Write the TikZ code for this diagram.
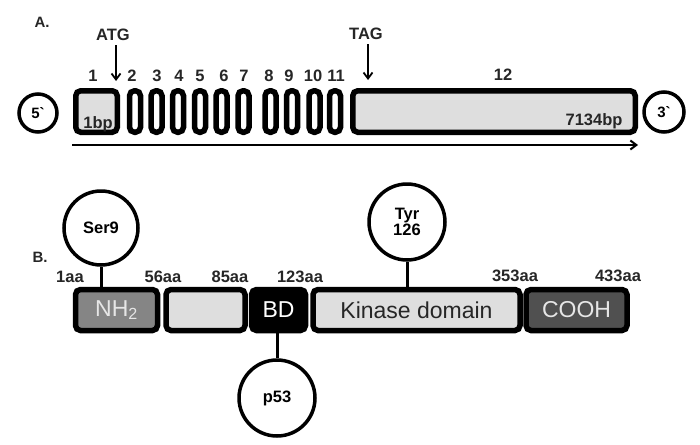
\documentclass[tikz,border=0pt]{standalone}
\usepackage{fontspec}
\setmainfont{Liberation Sans}
\usetikzlibrary{arrows.meta}
\definecolor{lightfill}{HTML}{DEDEDE}
\definecolor{midfill}{HTML}{858585}
\definecolor{darkfill}{HTML}{505050}
\definecolor{paletext}{HTML}{E6E6E6}
\begin{document}
\begin{tikzpicture}[x=1pt,y=-1pt,
  lab/.style={font=\fontsize{16.5}{18}\selectfont\bfseries, inner sep=0, text=black!85},
  numlab/.style={font=\fontsize{16.5}{18}\selectfont\bfseries, inner sep=0, text=black!85},
  exonbox/.style={draw, line width=5.5pt, rounded corners=5pt, fill=white, inner sep=0,
    minimum width=11pt, minimum height=41.5pt},
  bigexon/.style={exonbox, fill=lightfill},
  endcircle/.style={draw, circle, line width=3.5pt, inner sep=0, minimum size=38pt,
    font=\fontsize{15}{17}\selectfont\bfseries},
  sitecircle/.style={draw, circle, line width=3.5pt, inner sep=0, minimum size=74pt,
    font=\fontsize{16.5}{18}\selectfont\bfseries, align=center},
  protbox/.style={draw, line width=5.5pt, rounded corners=5pt, inner sep=0,
    minimum height=41pt, font=\fontsize{23}{25}\selectfont},
  stem/.style={line width=3pt},
  arr/.style={line width=1.8pt, -{Straight Barb[length=6pt,width=9pt]}}
]
\useasboundingbox (0,0) rectangle (700,444);

% ---------------- Part A ----------------
\node[lab, font=\fontsize{15}{17}\selectfont\bfseries] (labA) at (42,22) {A.};

\node[endcircle] (five) at (38,113) {5\textasciigrave};
\node[endcircle, minimum size=40pt] (three) at (664,112) {3\textasciigrave};

\node[bigexon, minimum width=41.5pt] (e1) at (96.5,111.5) {};
\node[exonbox] (e2) at (135,111.5) {};
\node[exonbox] (e3) at (156.5,111.5) {};
\node[exonbox] (e4) at (178,111.5) {};
\node[exonbox] (e5) at (200,111.5) {};
\node[exonbox] (e6) at (221.5,111.5) {};
\node[exonbox] (e7) at (243.5,111.5) {};
\node[exonbox] (e8) at (270.5,111.5) {};
\node[exonbox] (e9) at (292,111.5) {};
\node[exonbox] (e10) at (314.5,111.5) {};
\node[exonbox] (e11) at (335,111.5) {};
\node[bigexon, minimum width=282.5pt] (e12) at (494,111.5) {};

\node[lab] (bp1) at (98,124) {1bp};
\node[lab] (bp2) at (594,121) {7134bp};

\node[numlab] (n1) at (93,76) {1};
\node[numlab] (n2) at (132,76) {2};
\node[numlab] (n3) at (157,76) {3};
\node[numlab] (n4) at (179,76) {4};
\node[numlab] (n5) at (200,76) {5};
\node[numlab] (n6) at (224,76) {6};
\node[numlab] (n7) at (244,76) {7};
\node[numlab] (n8) at (269,76) {8};
\node[numlab] (n9) at (289,76) {9};
\node[numlab] (n10) at (313,76) {10};
\node[numlab] (n11) at (336,76) {11};
\node[numlab] (n12) at (503,75) {12};

\node[lab] (atg) at (113,35) {ATG};
\node[lab] (tag) at (366,34) {TAG};
\coordinate (atgend) at (116,81);
\coordinate (tagend) at (368,80);
\draw[arr] (atg.south -| atgend) ++(0,4) -- (atgend);
\draw[arr] (tag.south -| tagend) ++(0,4) -- (tagend);

\coordinate (lineS) at (72,145);
\coordinate (lineE) at (638,145);
\draw[arr, line width=2pt] (lineS) -- (lineE);

% ---------------- Part B ----------------
\node[lab, font=\fontsize{15}{17}\selectfont\bfseries] (labB) at (40,257) {B.};

\node[protbox, fill=midfill, minimum width=82pt, text=paletext] (nh) at (116.5,310) {NH\textsubscript{2}};
\node[protbox, fill=lightfill, minimum width=79pt] (mid) at (205.5,310) {};
\node[protbox, fill=black, minimum width=54pt, text=white] (bd) at (278.5,310) {BD};
\node[protbox, fill=lightfill, minimum width=207pt, text=black!85] (kin) at (416.5,310) {Kinase domain};
\node[protbox, fill=darkfill, minimum width=101pt, text=paletext] (cooh) at (576.5,310) {COOH};

\node[lab] (aa1) at (70,277) {1aa};
\node[lab] (aa56) at (163,277) {56aa};
\node[lab] (aa85) at (230,277) {85aa};
\node[lab] (aa123) at (300,277) {123aa};
\node[lab] (aa353) at (515,276) {353aa};
\node[lab] (aa433) at (618,276) {433aa};

\node[sitecircle] (ser) at (101,228) {Ser9};
\node[sitecircle, minimum size=76pt] (tyr) at (407,222) {Tyr\\[-2pt]126};
\node[sitecircle, minimum size=76pt] (p53) at (277,398) {p53};

\draw[stem] (ser.south) -- (ser.south |- nh.north);
\draw[stem] (tyr.south) -- (tyr.south |- kin.north);
\draw[stem] (p53.north) -- (p53.north |- bd.south);
\end{tikzpicture}
\end{document}
